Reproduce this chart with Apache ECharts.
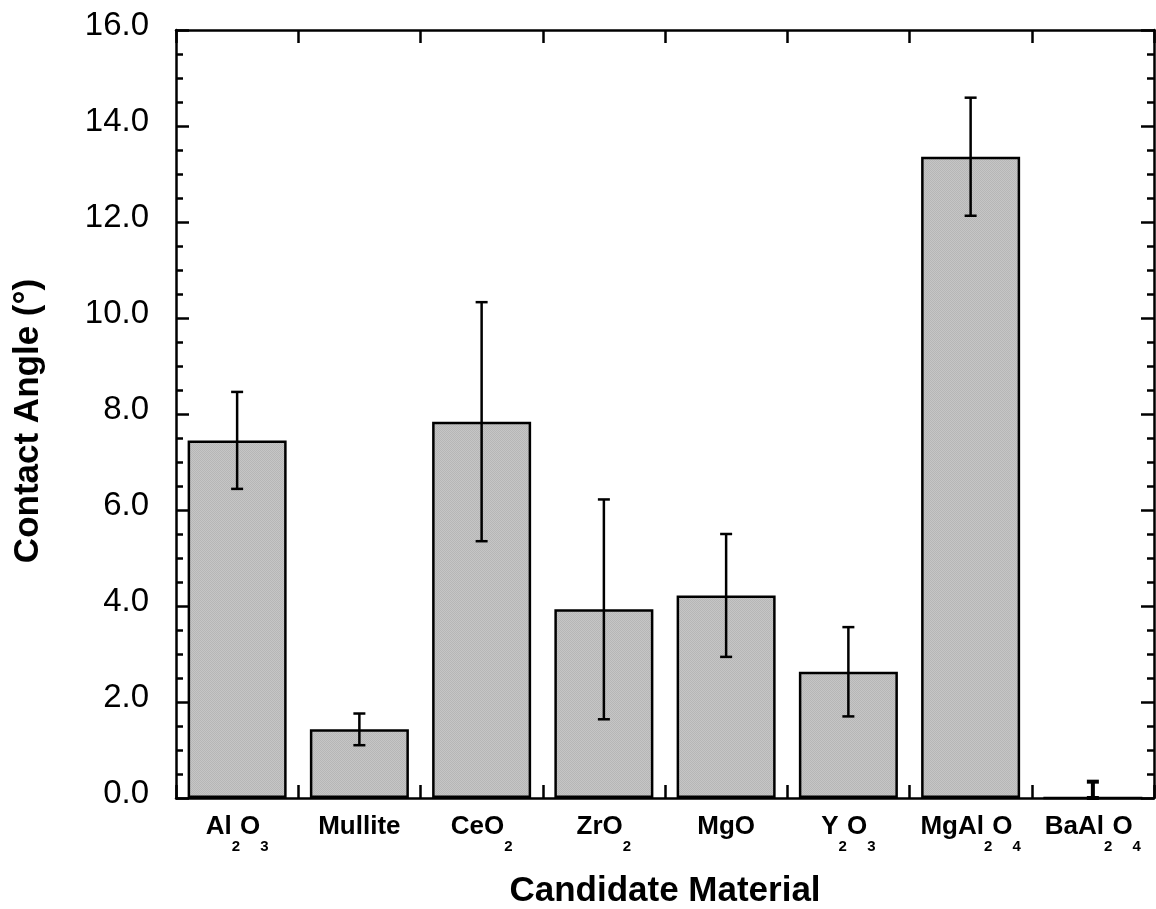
<!DOCTYPE html>
<html>
<head>
<meta charset="utf-8">
<title>Contact Angle by Candidate Material</title>
<script src="https://cdn.jsdelivr.net/npm/echarts@6/dist/echarts.min.js"></script>
<style>
  html, body { margin: 0; padding: 0; background: #fff; }
  #chart { width: 1156px; height: 909px; }
</style>
</head>
<body>
<div id="chart"></div>
<script>
// Candidate materials (digits are rendered as subscripts)
const categories = ['Al2O3', 'Mullite', 'CeO2', 'ZrO2', 'MgO', 'Y2O3', 'MgAl2O4', 'BaAl2O4'];
// Mean contact angle (degrees)
const meanAngle = [7.45, 1.43, 7.84, 3.93, 4.22, 2.63, 13.36, 0.0];
// Error (± degrees)
const angleError = [1.01, 0.33, 2.49, 2.29, 1.28, 0.93, 1.23, 0.34];
// Y-axis range and step
const yMin = 0, yMax = 16, yStep = 2;

const FONT = '"Liberation Sans", Arial, Helvetica, sans-serif';

// Fine stippled gray fill for the bars
const tile = document.createElement('canvas');
tile.width = 2; tile.height = 2;
const tctx = tile.getContext('2d');
tctx.fillStyle = '#c6c6c6'; tctx.fillRect(0, 0, 2, 2);
tctx.fillStyle = '#b6b6b6'; tctx.fillRect(0, 0, 1, 1); tctx.fillRect(1, 1, 1, 1);

function chemLabel(name) {
  return name.replace(/([A-Za-z]+)/g, '{m|$1}').replace(/(\d)/g, '{s|$1}');
}

const chart = echarts.init(document.getElementById('chart'), null, { renderer: 'canvas' });

const axisLine = { show: true, onZero: false, lineStyle: { color: '#000', width: 2.5 } };

chart.setOption({
  backgroundColor: '#fff',
  animation: false,
  grid: { left: 176, right: 2, top: 30, bottom: 111, containLabel: false, outerBoundsMode: 'none' },
  xAxis: [
    {
      type: 'category',
      data: categories,
      position: 'bottom',
      axisLine: axisLine,
      axisTick: { show: true, inside: true, length: 13, lineStyle: { color: '#000', width: 2.5 } },
      axisLabel: {
        interval: 0,
        margin: 24,
        formatter: chemLabel,
        rich: {
          m: { fontFamily: FONT, fontWeight: 'bold', fontSize: 26, color: '#000', lineHeight: 26, padding: [0, 0, 16, 0] },
          s: { fontFamily: FONT, fontWeight: 'bold', fontSize: 15, color: '#000', lineHeight: 16, padding: [25, 0, 1, 0] }
        }
      },
      splitLine: { show: false },
      name: 'Candidate Material',
      nameLocation: 'middle',
      nameGap: 76,
      nameTextStyle: { fontFamily: FONT, fontWeight: 'bold', fontSize: 35, color: '#000' }
    },
    {
      type: 'category',
      data: categories,
      position: 'top',
      axisLine: axisLine,
      axisTick: { show: true, inside: true, length: 13, lineStyle: { color: '#000', width: 2.5 } },
      axisLabel: { show: false },
      splitLine: { show: false }
    }
  ],
  yAxis: [
    {
      type: 'value',
      min: yMin, max: yMax, interval: yStep,
      position: 'left',
      axisLine: axisLine,
      axisTick: { show: true, inside: true, length: 13, lineStyle: { color: '#000', width: 2.5 } },
      minorTick: { show: true, splitNumber: 4, length: 7, lineStyle: { color: '#000', width: 2.5 } },
      splitLine: { show: false },
      axisLabel: {
        margin: 27,
        fontFamily: FONT, fontSize: 33, color: '#000',
        verticalAlign: 'bottom',
        lineHeight: 8,
        formatter: v => v.toFixed(1)
      },
      name: 'Contact Angle (°)',
      nameLocation: 'middle',
      nameGap: 130,
      nameTextStyle: { fontFamily: FONT, fontWeight: 'bold', fontSize: 35, color: '#000', padding: [0, 14, 0, 0] }
    },
    {
      type: 'value',
      min: yMin, max: yMax, interval: yStep,
      position: 'right',
      axisLine: axisLine,
      axisTick: { show: true, inside: true, length: 13, lineStyle: { color: '#000', width: 2.5 } },
      minorTick: { show: true, splitNumber: 4, length: 7, lineStyle: { color: '#000', width: 2.5 } },
      splitLine: { show: false },
      axisLabel: { show: false }
    }
  ],
  series: [
    {
      type: 'bar',
      data: meanAngle,
      barWidth: '81%',
      itemStyle: {
        color: { image: tile, repeat: 'repeat' },
        borderColor: '#000',
        borderWidth: 2.5
      },
      z: 2
    },
    {
      type: 'custom',
      data: meanAngle.map((m, i) => [i, m, angleError[i]]),
      renderItem: function (params, api) {
        const i = api.value(0), m = api.value(1), e = api.value(2);
        const top = api.coord([i, m + e]);
        const bot = api.coord([i, Math.max(m - e, 0)]);
        const cap = 6;
        const style = { stroke: '#000', lineWidth: m === 0 ? 4 : 2.5, fill: null };
        return {
          type: 'group',
          children: [
            { type: 'line', shape: { x1: top[0], y1: top[1], x2: bot[0], y2: bot[1] }, style: style },
            { type: 'line', shape: { x1: top[0] - cap, y1: top[1], x2: top[0] + cap, y2: top[1] }, style: style },
            { type: 'line', shape: { x1: bot[0] - cap, y1: bot[1], x2: bot[0] + cap, y2: bot[1] }, style: style }
          ]
        };
      },
      z: 3
    }
  ]
});
</script>
</body>
</html>
